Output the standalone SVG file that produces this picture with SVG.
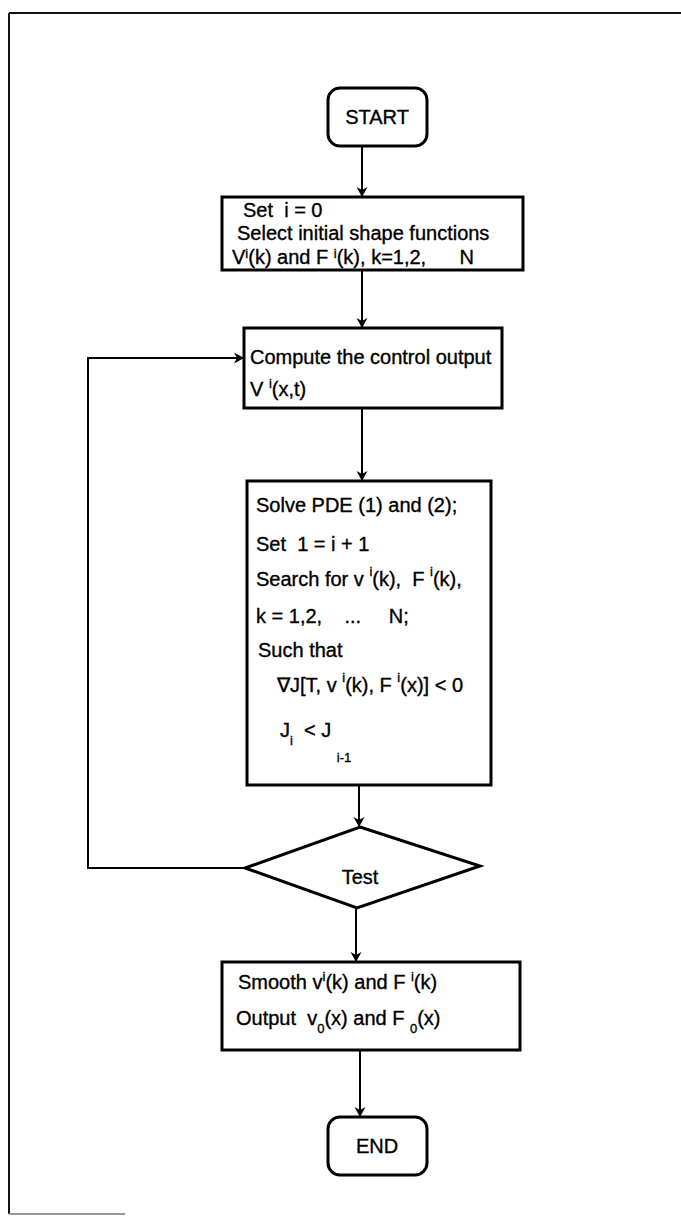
<svg xmlns="http://www.w3.org/2000/svg" width="681" height="1218" viewBox="0 0 681 1218">
<style>
.frame{stroke:#111;stroke-width:2;fill:none}
.box{stroke:#000;stroke-width:3;fill:#fff}
.edge{stroke:#000;stroke-width:2;fill:none}
text{font-family:"Liberation Sans",Arial,sans-serif;font-size:20px;fill:#000;stroke:#000;stroke-width:0.35;white-space:pre}
.c{text-anchor:middle}
.s{font-size:13px}
</style>
<defs>
<marker id="ah" markerWidth="10" markerHeight="14" refX="9" refY="7" orient="auto" markerUnits="userSpaceOnUse">
<path d="M0,1.5 L10,7 L0,12.5 L3,7 Z" fill="#000"/>
</marker>
</defs>
<rect width="681" height="1218" fill="#fff"/>
<g id="frame">
<line class="frame" x1="9" y1="13" x2="681" y2="13"/>
<line class="frame" x1="9" y1="13" x2="9" y2="1214"/>
<line x1="9" y1="1214" x2="125" y2="1214" stroke="#999" stroke-width="2"/>
</g>
<g id="connectors">
<line class="edge" x1="362" y1="146" x2="362" y2="196" marker-end="url(#ah)"/>
<line class="edge" x1="362" y1="270" x2="362" y2="327" marker-end="url(#ah)"/>
<line class="edge" x1="362" y1="408" x2="362" y2="480" marker-end="url(#ah)"/>
<line class="edge" x1="359" y1="785" x2="359" y2="826" marker-end="url(#ah)"/>
<polyline class="edge" points="245,868 88,868 88,358 243,358" marker-end="url(#ah)"/>
<line class="edge" x1="356" y1="908" x2="356" y2="961" marker-end="url(#ah)"/>
<line class="edge" x1="360" y1="1050" x2="360" y2="1116" marker-end="url(#ah)"/>
</g>
<g id="start">
<rect class="box" x="328" y="88" width="99" height="58" rx="12"/>
<text class="c" x="377" y="124">START</text>
</g>
<g id="init">
<rect class="box" x="222" y="197" width="301" height="73"/>
<text x="243" y="217">Set  i = 0</text>
<text x="237" y="240">Select initial shape functions</text>
<text x="232" y="264">V<tspan class="s" dy="-6">i</tspan><tspan dy="6">(k) and F </tspan><tspan class="s" dy="-6">i</tspan><tspan dy="6">(k), k=1,2,      N</tspan></text>
</g>
<g id="compute">
<rect class="box" x="244" y="328" width="258" height="80"/>
<text x="250" y="364">Compute the control output</text>
<text x="250" y="396">V <tspan class="s" dy="-8">i</tspan><tspan dy="8">(x,t)</tspan></text>
</g>
<g id="solve">
<rect class="box" x="247" y="481" width="244" height="304"/>
<text x="256" y="512">Solve PDE (1) and (2);</text>
<text x="256" y="551">Set  1 = i + 1</text>
<text x="256" y="586">Search for v <tspan class="s" dy="-10">i</tspan><tspan dy="10">(k),  F </tspan><tspan class="s" dy="-10">i</tspan><tspan dy="10">(k),</tspan></text>
<text x="256" y="623">k = 1,2,    ...     N;</text>
<text x="258" y="657">Such that</text>
<text x="277" y="692">∇J[T, v <tspan class="s" dy="-10">i</tspan><tspan dy="10">(k), F </tspan><tspan class="s" dy="-10">i</tspan><tspan dy="10">(x)] &lt; 0</tspan></text>
<text x="280" y="737">J<tspan class="s" dy="8">i</tspan><tspan dy="-8">  &lt; J </tspan><tspan class="s" dy="25">i-1</tspan></text>
</g>
<g id="test">
<polygon class="box" points="360,827 480,866 357,908 245,868"/>
<text class="c" x="360" y="884">Test</text>
</g>
<g id="smooth">
<rect class="box" x="222" y="962" width="298" height="88"/>
<text x="238" y="989">Smooth v<tspan class="s" dy="-8">i</tspan><tspan dy="8">(k) and F </tspan><tspan class="s" dy="-8">i</tspan><tspan dy="8">(k)</tspan></text>
<text x="236" y="1025">Output  v<tspan class="s" dy="8">0</tspan><tspan dy="-8">(x) and F </tspan><tspan class="s" dy="8">0</tspan><tspan dy="-8">(x)</tspan></text>
</g>
<g id="end">
<rect class="box" x="328" y="1117" width="99" height="58" rx="12"/>
<text class="c" x="377" y="1153">END</text>
</g>
</svg>
